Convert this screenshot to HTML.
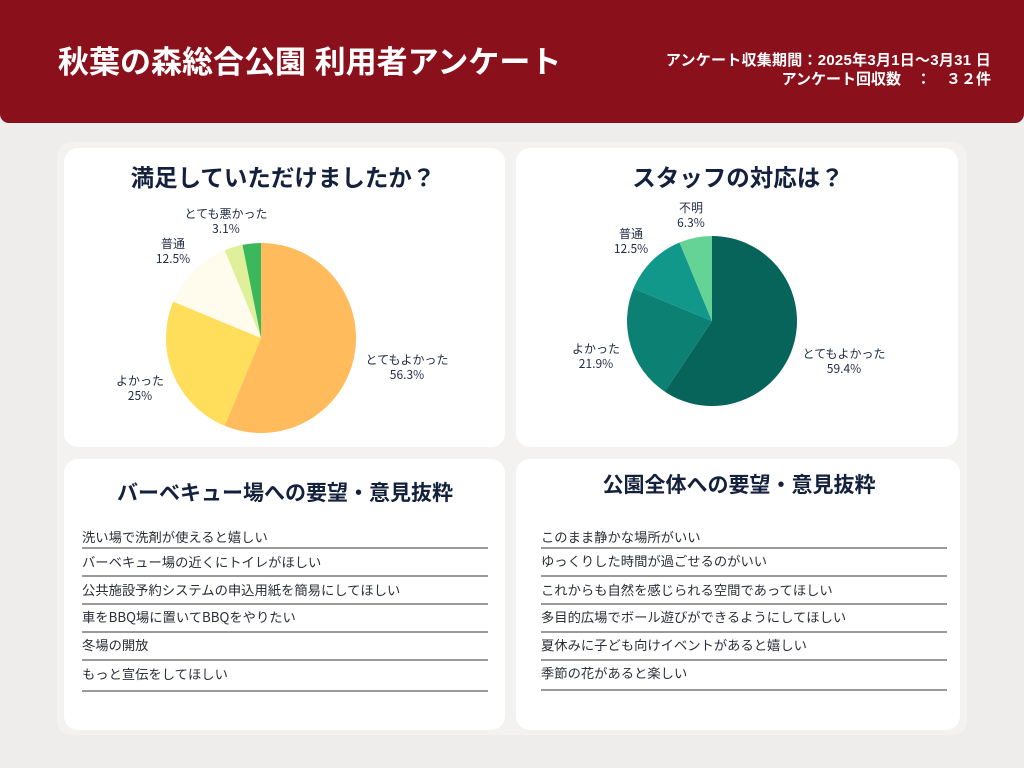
<!DOCTYPE html>
<html><head><meta charset="utf-8">
<style>
*{margin:0;padding:0;box-sizing:border-box}
body{width:1024px;height:768px;background:#EEEDEB;position:relative;overflow:hidden;font-family:"Liberation Sans","Noto Sans CJK JP",sans-serif}
.hdr{position:absolute;left:0;top:0;width:1024px;height:123px;background:#8A101C;border-radius:0 0 9px 9px}
.htitle{position:absolute;left:58px;top:41px;font-size:31px;font-weight:700;color:#fff;line-height:44px;white-space:nowrap}
.hr{position:absolute;right:33px;font-size:15px;font-weight:700;color:#fff;white-space:nowrap;line-height:20px;text-align:right}
.cont{position:absolute;left:57px;top:142px;width:910px;height:593px;background:#F3F2F0;border-radius:14px}
.panel{position:absolute;background:#fff;border-radius:14px}
.t{position:absolute;font-weight:700;color:#14213D;white-space:nowrap;text-align:center;transform:translateX(-50%);font-family:"Noto Sans CJK JP",sans-serif}
.lbl{position:absolute;font-size:12px;color:#1F2A44;text-align:center;transform:translateX(-50%);white-space:nowrap;line-height:15px;font-family:"Noto Sans CJK JP",sans-serif}
.it{position:absolute;font-size:13.3px;color:#2B2F38;white-space:nowrap;line-height:20px;font-family:"Noto Sans CJK JP",sans-serif}
.ln{position:absolute;height:2px;background:#9A9A9A}
</style></head><body>
<div class="hdr"></div>
<div class="htitle">秋葉の森総合公園 利用者アンケート</div>
<div class="hr" style="top:51px;letter-spacing:0.25px">アンケート収集期間：2025年3月1日〜3月31 日</div>
<div class="hr" style="top:70px">アンケート回収数　：　３２件</div>

<div class="cont"></div>
<div class="panel" style="left:64px;top:148px;width:441px;height:299px"></div>
<div class="panel" style="left:516px;top:148px;width:442px;height:299px"></div>
<div class="panel" style="left:64px;top:459px;width:441px;height:271px"></div>
<div class="panel" style="left:516px;top:459px;width:444px;height:271px"></div>

<div class="t" style="left:283px;top:159px;font-size:23.5px;line-height:34px">満足していただけましたか？</div>
<div class="t" style="left:738px;top:159px;font-size:23.5px;line-height:34px">スタッフの対応は？</div>
<div class="t" style="left:285px;top:477px;font-size:21px;line-height:30px">バーベキュー場への要望・意見抜粋</div>
<div class="t" style="left:739px;top:469px;font-size:21px;line-height:30px">公園全体への要望・意見抜粋</div>

<svg style="position:absolute;left:0;top:0" width="1024" height="768">
<path d="M261,338 L261,243 A95,95 0 1 1 224.645,425.769 Z" fill="#FFBB5C"/>
<path d="M261,338 L224.645,425.769 A95,95 0 0 1 173.231,301.645 Z" fill="#FFDE5C"/>
<path d="M261,338 L173.231,301.645 A95,95 0 0 1 224.645,250.231 Z" fill="#FFFCEE"/>
<path d="M261,338 L224.645,250.231 A95,95 0 0 1 242.466,244.825 Z" fill="#E0F09A"/>
<path d="M261,338 L242.466,244.825 A95,95 0 0 1 261,243 Z" fill="#3CB85C"/>

<path d="M712,321 L712,236 A85,85 0 1 1 664.777,391.675 Z" fill="#07645A"/>
<path d="M712,321 L664.777,391.675 A85,85 0 0 1 633.470,288.472 Z" fill="#0D8074"/>
<path d="M712,321 L633.470,288.472 A85,85 0 0 1 679.472,242.470 Z" fill="#11988A"/>
<path d="M712,321 L679.472,242.470 A85,85 0 0 1 712,236 Z" fill="#66D396"/>
</svg>

<div class="lbl" style="left:407px;top:352px">とてもよかった<br>56.3%</div>
<div class="lbl" style="left:140px;top:373px">よかった<br>25%</div>
<div class="lbl" style="left:173px;top:236px">普通<br>12.5%</div>
<div class="lbl" style="left:226px;top:206px">とても悪かった<br>3.1%</div>

<div class="lbl" style="left:844px;top:346px">とてもよかった<br>59.4%</div>
<div class="lbl" style="left:596px;top:341px">よかった<br>21.9%</div>
<div class="lbl" style="left:631px;top:226px">普通<br>12.5%</div>
<div class="lbl" style="left:691px;top:200px">不明<br>6.3%</div>

<div class="it" style="left:82px;top:527px">洗い場で洗剤が使えると嬉しい</div>
<div class="ln" style="left:82px;top:547px;width:406px"></div>
<div class="it" style="left:82px;top:552px">バーベキュー場の近くにトイレがほしい</div>
<div class="ln" style="left:82px;top:575px;width:406px"></div>
<div class="it" style="left:82px;top:580px">公共施設予約システムの申込用紙を簡易にしてほしい</div>
<div class="ln" style="left:82px;top:603px;width:406px"></div>
<div class="it" style="left:82px;top:607px">車をBBQ場に置いてBBQをやりたい</div>
<div class="ln" style="left:82px;top:631px;width:406px"></div>
<div class="it" style="left:82px;top:635px">冬場の開放</div>
<div class="ln" style="left:82px;top:659px;width:406px"></div>
<div class="it" style="left:82px;top:664px">もっと宣伝をしてほしい</div>
<div class="ln" style="left:82px;top:690px;width:406px"></div>

<div class="it" style="left:541px;top:527px">このまま静かな場所がいい</div>
<div class="ln" style="left:541px;top:547px;width:406px"></div>
<div class="it" style="left:541px;top:551px">ゆっくりした時間が過ごせるのがいい</div>
<div class="ln" style="left:541px;top:575px;width:406px"></div>
<div class="it" style="left:541px;top:580px">これからも自然を感じられる空間であってほしい</div>
<div class="ln" style="left:541px;top:603px;width:406px"></div>
<div class="it" style="left:541px;top:607px">多目的広場でボール遊びができるようにしてほしい</div>
<div class="ln" style="left:541px;top:631px;width:406px"></div>
<div class="it" style="left:541px;top:635px">夏休みに子ども向けイベントがあると嬉しい</div>
<div class="ln" style="left:541px;top:659px;width:406px"></div>
<div class="it" style="left:541px;top:663px">季節の花があると楽しい</div>
<div class="ln" style="left:541px;top:689px;width:406px"></div>
</body></html>
